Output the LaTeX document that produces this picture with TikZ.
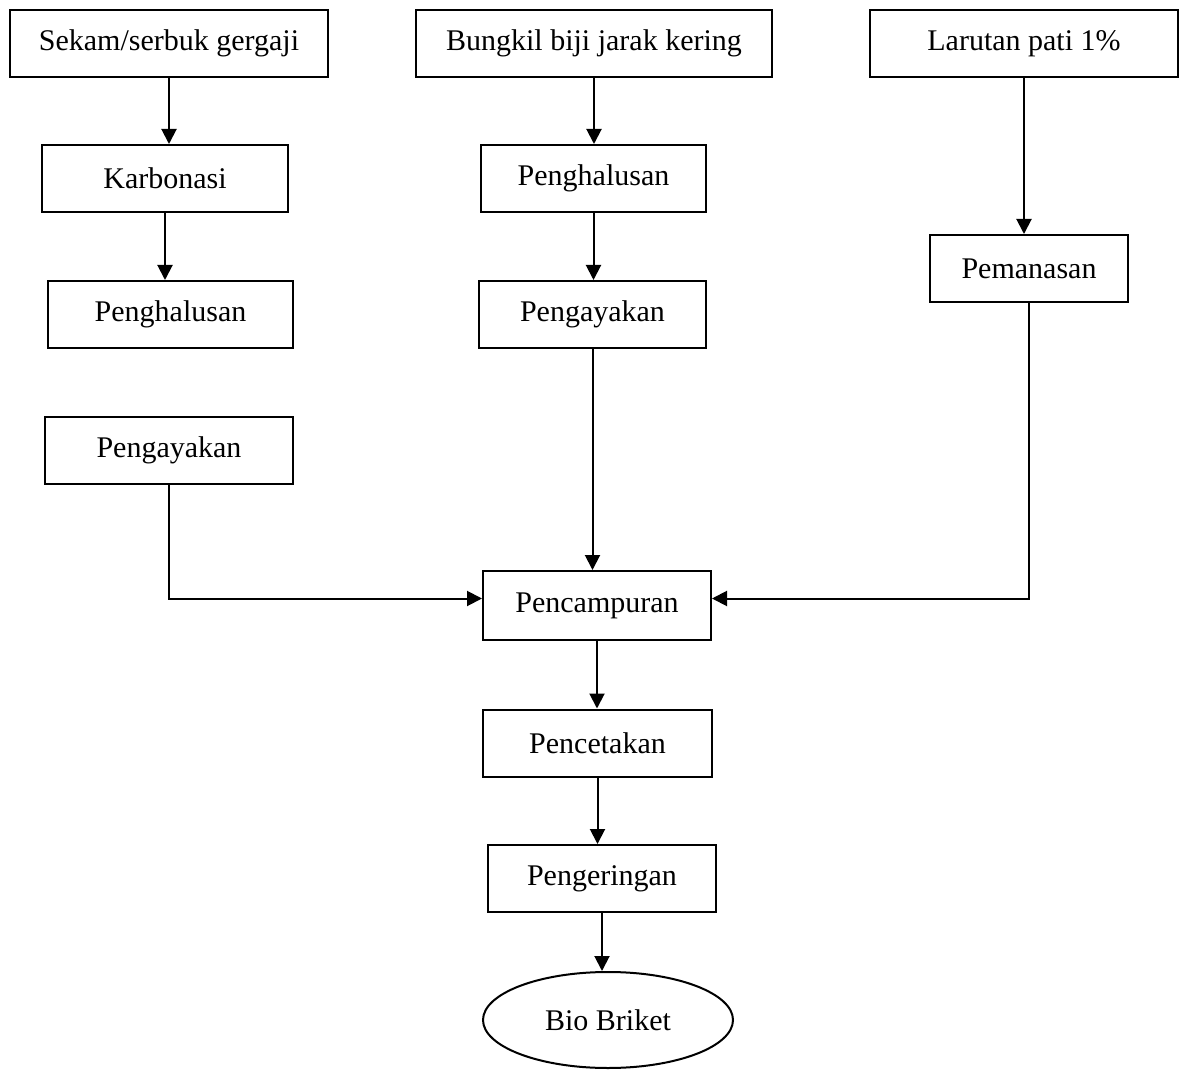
\documentclass[tikz,border=0pt]{standalone}
\usepackage{fontspec}
\setmainfont{Liberation Serif}
\usepackage{tikz}
\usetikzlibrary{shapes.geometric, arrows.meta, calc}

\begin{document}
\begin{tikzpicture}[
        x=0.4pt, y=-0.4pt,
        box/.style={draw, line width=0.8pt, inner sep=0pt, minimum height=26.8pt, font=\fontsize{12}{14}\selectfont},
        hasil/.style={draw, ellipse, line width=0.8pt, inner sep=0pt, minimum width=100pt, minimum height=38.4pt, font=\fontsize{12}{14}\selectfont},
        line/.style={line width=0.8pt, -{Triangle[length=6pt, width=6pt]}}
    ]
        \useasboundingbox (0,0) rectangle (1188,1072);

        % bahan baku
        \node[box, minimum width=127.2pt] (sekam) at (169,43.5) {Sekam/serbuk gergaji};
        \node[box, minimum width=142.4pt] (bungkil) at (594,43.5) {Bungkil biji jarak kering};
        \node[box, minimum width=123.2pt] (pati) at (1024,43.5) {Larutan pati 1\%};

        % jalur sekam
        \node[box, minimum width=98.4pt] (karbon) at (165,178.5) {Karbonasi};
        \node[box, minimum width=98pt] (halus1) at (170.5,314.5) {Penghalusan};
        \node[box, minimum width=99.2pt] (ayak1) at (169,450) {Pengayakan};

        % jalur bungkil
        \node[box, minimum width=90pt] (halus2) at (593.5,178.5) {Penghalusan};
        \node[box, minimum width=90.8pt] (ayak2) at (592.5,314.5) {Pengayakan};

        % jalur perekat
        \node[box, minimum width=79.2pt] (panas) at (1029,268.5) {Pemanasan};

        % proses akhir
        \node[box, minimum width=91.2pt, minimum height=27.6pt] (campur) at (597,605.5) {Pencampuran};
        \node[box, minimum width=91.6pt] (cetak) at (597.5,743) {Pencetakan};
        \node[box, minimum width=91.2pt] (kering) at (602,878.5) {Pengeringan};
        \node[hasil] (briket) at (608,1020) {Bio Briket};

        \draw[line] (sekam.south) -- (sekam.south |- karbon.north);
        \draw[line] (karbon.south) -- (karbon.south |- halus1.north);
        \draw[line] (bungkil.south) -- (bungkil.south |- halus2.north);
        \draw[line] (halus2.south) -- (halus2.south |- ayak2.north);
        \draw[line] (ayak2.south) -- (ayak2.south |- campur.north);
        \draw[line] (pati.south) -- (pati.south |- panas.north);
        \draw[line] (ayak1.south) |- ($(campur.west)+(0,-7)$);
        \draw[line] (panas.south) |- ($(campur.east)+(0,-7)$);
        \draw[line] (campur.south) -- (campur.south |- cetak.north);
        \draw[line] (cetak.south) -- (cetak.south |- kering.north);
        \draw[line] (kering.south) -- (kering.south |- briket.north);
    \end{tikzpicture}
\end{document}
